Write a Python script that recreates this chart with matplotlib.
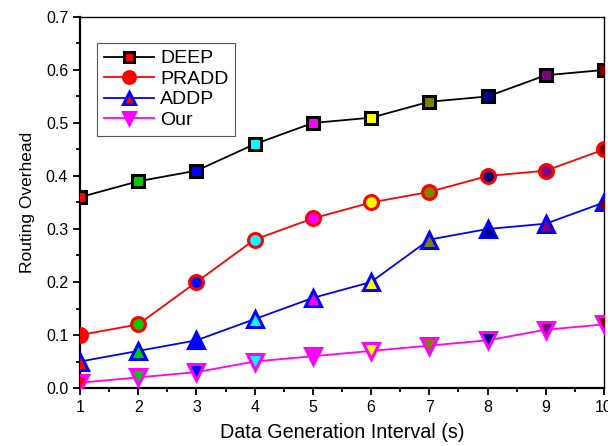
import matplotlib
matplotlib.use("Agg")
import matplotlib.pyplot as plt
from matplotlib.ticker import MultipleLocator

plt.rcParams['font.family'] = ['Liberation Sans', 'DejaVu Sans']

interval = [1, 2, 3, 4, 5, 6, 7, 8, 9, 10]
deep = [0.36, 0.39, 0.41, 0.46, 0.50, 0.51, 0.54, 0.55, 0.59, 0.60]
pradd = [0.10, 0.12, 0.20, 0.28, 0.32, 0.35, 0.37, 0.40, 0.41, 0.45]
addp = [0.05, 0.07, 0.09, 0.13, 0.17, 0.20, 0.28, 0.30, 0.31, 0.35]
our = [0.01, 0.02, 0.03, 0.05, 0.06, 0.07, 0.08, 0.09, 0.11, 0.12]

# Origin-style per-point fill colours
point_colors = ['#ff0000', '#00cc00', '#0000ff', '#00ffff', '#ff00ff',
                '#ffff00', '#808000', '#000080', '#800080', '#800000']

series = [
    ('DEEP', deep, 'black', 's', 8.5, '#ff0000'),
    ('PRADD', pradd, '#ff0000', 'o', 10, '#ff0000'),
    ('ADDP', addp, '#0000ff', '^', 11, '#ff0000'),
    ('Our', our, '#ff00ff', 'v', 11, '#ff00ff'),
]

fig = plt.figure(figsize=(6.08, 4.46), dpi=100)
ax = fig.add_axes([0.1316, 0.130, 0.8618, 0.832])

for name, vals, col, mk, ms, legface in series:
    ax.plot(interval, vals, color=col, lw=1.3, zorder=2)
    for xi, yi, fc in zip(interval, vals, point_colors):
        ax.plot(xi, yi, marker=mk, ms=ms, mfc=fc, mec=col, mew=2.2,
                ls='none', zorder=3)
    ax.plot([], [], color=col, lw=1.3, marker=mk, ms=ms, mfc=legface,
            mec=col, mew=2.2, label=name)

ax.set_xlim(1, 10)
ax.set_ylim(0, 0.7)
ax.xaxis.set_major_locator(MultipleLocator(1))
ax.xaxis.set_minor_locator(MultipleLocator(0.5))
ax.yaxis.set_major_locator(MultipleLocator(0.1))
ax.yaxis.set_minor_locator(MultipleLocator(0.05))
ax.yaxis.set_major_formatter(matplotlib.ticker.FormatStrFormatter('%.1f'))
ax.tick_params(which='major', direction='out', length=5, width=1.3, labelsize=11.5)
ax.tick_params(which='minor', direction='out', length=3, width=1.3)
ax.tick_params(top=False, right=False, which='both')
for s in ['left', 'bottom']:
    ax.spines[s].set_linewidth(1.6)
for s in ['top', 'right']:
    ax.spines[s].set_linewidth(1.0)

ax.set_xlabel('Data Generation Interval (s)', fontsize=14.2, labelpad=6)
ax.set_ylabel('Routing Overhead', fontsize=12.5, labelpad=8)

leg = ax.legend(loc='upper left', bbox_to_anchor=(0.032, 0.93), fontsize=14,
                fancybox=False, edgecolor='#555555', framealpha=1,
                handlelength=2.6, handletextpad=0.3, borderpad=0.35,
                labelspacing=0.15, borderaxespad=0, markerscale=0.85)
leg.get_frame().set_linewidth(0.8)

fig.savefig('out.png', dpi=100)
